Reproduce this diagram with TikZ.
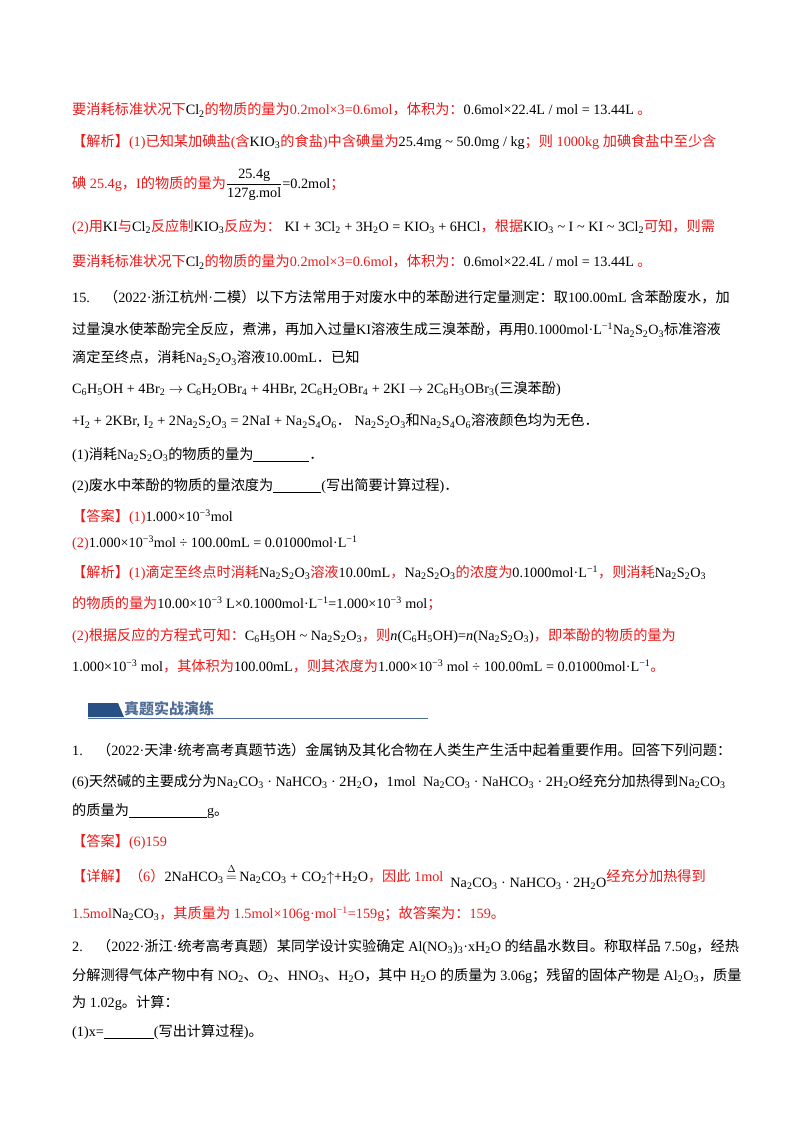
\documentclass[tikz,border=0pt]{standalone}
\usepackage{amsmath}
\usepackage{fontspec}
\setmainfont{Liberation Serif}
\newfontfamily\cjkf{Noto Sans CJK SC}
\newcount\cjkcc
\cjkcc="3000 \loop \XeTeXcharclass\cjkcc=1 \advance\cjkcc by 1 \ifnum\cjkcc<"3040 \repeat
\cjkcc="4E00 \loop \XeTeXcharclass\cjkcc=1 \advance\cjkcc by 1 \ifnum\cjkcc<"A000 \repeat
\cjkcc="FF00 \loop \XeTeXcharclass\cjkcc=1 \advance\cjkcc by 1 \ifnum\cjkcc<"FFF0 \repeat
\XeTeXinterchartokenstate=1
\XeTeXinterchartoks 0 1 = {\cjkf}
\XeTeXinterchartoks 4095 1 = {\cjkf}
\XeTeXinterchartoks 1 0 = {\rmfamily}
\XeTeXinterchartoks 1 4095 = {\rmfamily}
\definecolor{myred}{RGB}{235,25,25}
\definecolor{hblue}{RGB}{40,80,130}
\definecolor{htext}{RGB}{80,110,150}
\newcommand\R[1]{{\color{myred}#1}}
\newcommand\s[1]{\textsubscript{#1}}
\newcommand\p[1]{\textsuperscript{#1}}
\newcommand\blank[1]{\rule[-2pt]{#1}{0.8pt}}
\begin{document}
\begin{tikzpicture}[x=1pt,y=-1pt,
  ln/.style={anchor=west,inner sep=0pt,font=\fontsize{14.2}{17}\selectfont}]
\useasboundingbox (0,0) rectangle (800,1132);
\fill[white] (0,0) rectangle (800,1132);
\node[ln] (l1) at (72,110) {\R{要消耗标准状况下}Cl\s{2}\R{的物质的量为0.2mol×3=0.6mol，体积为：}0.6mol×22.4L / mol = 13.44L \R{。}};
\node[ln] (l2) at (72,142) {\R{【解析】(1)已知某加碘盐(含}KIO\s{3}\R{的食盐)中含碘量为}25.4mg \textasciitilde{} 50.0mg / kg\R{；则 1000kg 加碘食盐中至少含}};
\node[ln] (l3) at (72,185) {\R{碘 25.4g，I的物质的量为}$\dfrac{\text{25.4g}}{\text{127g.mol}}$=0.2mol\R{；}};
\node[ln] (l4) at (72,227) {\R{(2)用}KI\R{与}Cl\s{2}\R{反应制}KIO\s{3}\R{反应为：} KI + 3Cl\s{2} + 3H\s{2}O = KIO\s{3} + 6HCl\R{，根据}KIO\s{3} \textasciitilde{} I \textasciitilde{} KI \textasciitilde{} 3Cl\s{2}\R{可知，则需}};
\node[ln] (l5) at (72,262) {\R{要消耗标准状况下}Cl\s{2}\R{的物质的量为0.2mol×3=0.6mol，体积为：}0.6mol×22.4L / mol = 13.44L \R{。}};
\node[ln] (l6) at (72,297) {15.\quad（2022·浙江杭州·二模）以下方法常用于对废水中的苯酚进行定量测定：取100.00mL 含苯酚废水，加};
\node[ln] (l7) at (72,330) {过量溴水使苯酚完全反应，煮沸，再加入过量KI溶液生成三溴苯酚，再用0.1000mol·L\p{−1}Na\s{2}S\s{2}O\s{3}标准溶液};
\node[ln] (l8) at (72,358) {滴定至终点，消耗Na\s{2}S\s{2}O\s{3}溶液10.00mL．已知};
\node[ln] (l9) at (72,389) {C\s{6}H\s{5}OH + 4Br\s{2} $\rightarrow$ C\s{6}H\s{2}OBr\s{4} + 4HBr, 2C\s{6}H\s{2}OBr\s{4} + 2KI $\rightarrow$ 2C\s{6}H\s{3}OBr\s{3}(三溴苯酚)};
\node[ln] (l10) at (72,421) {+I\s{2} + 2KBr, I\s{2} + 2Na\s{2}S\s{2}O\s{3} = 2NaI + Na\s{2}S\s{4}O\s{6}．\ Na\s{2}S\s{2}O\s{3}和Na\s{2}S\s{4}O\s{6}溶液颜色均为无色．};
\node[ln] (l11) at (72,455) {(1)消耗Na\s{2}S\s{2}O\s{3}的物质的量为\blank{56pt}．};
\node[ln] (l12) at (72,486) {(2)废水中苯酚的物质的量浓度为\blank{48pt}(写出简要计算过程)．};
\node[ln] (l13) at (72,517) {\R{【答案】(1)}1.000×10\p{−3}mol};
\node[ln] (l14) at (72,543) {\R{(2)}1.000×10\p{−3}mol ÷ 100.00mL = 0.01000mol·L\p{−1}};
\node[ln] (l15) at (72,573) {\R{【解析】(1)滴定至终点时消耗}Na\s{2}S\s{2}O\s{3}\R{溶液}10.00mL\R{，}Na\s{2}S\s{2}O\s{3}\R{的浓度为}0.1000mol·L\p{−1}\R{，则消耗}Na\s{2}S\s{2}O\s{3}};
\node[ln] (l16) at (72,604) {\R{的物质的量为}10.00×10\p{−3} L×0.1000mol·L\p{−1}=1.000×10\p{−3} mol\R{；}};
\node[ln] (l17) at (72,636) {\R{(2)根据反应的方程式可知：}C\s{6}H\s{5}OH \textasciitilde{} Na\s{2}S\s{2}O\s{3}\R{，则}\textit{n}(C\s{6}H\s{5}OH)=\textit{n}(Na\s{2}S\s{2}O\s{3})\R{，即苯酚的物质的量为}};
\node[ln] (l18) at (72,666) {1.000×10\p{−3} mol\R{，其体积为}100.00mL\R{，则其浓度为}1.000×10\p{−3} mol ÷ 100.00mL = 0.01000mol·L\p{−1}\R{。}};
% section header
\fill[hblue] (88,703) -- (118,703) -- (124,717) -- (88,717) -- cycle;
\draw[htext,line width=0.8pt] (88,718) -- (428,718);
\node[anchor=west,inner sep=0pt,text=htext,font=\fontsize{15}{17}\selectfont\bfseries] (hd) at (124,709) {真题实战演练};
\node[ln] (m1) at (72,750) {1.\quad（2022·天津·统考高考真题节选）金属钠及其化合物在人类生产生活中起着重要作用。回答下列问题：};
\node[ln] (m2) at (72,782) {(6)天然碱的主要成分为Na\s{2}CO\s{3} · NaHCO\s{3} · 2H\s{2}O，1mol\ \ Na\s{2}CO\s{3} · NaHCO\s{3} · 2H\s{2}O经充分加热得到Na\s{2}CO\s{3}};
\node[ln] (m3) at (72,811) {的质量为\blank{78pt}g。};
\node[ln] (m4) at (72,842) {\R{【答案】(6)159}};
\node[ln] (m5) at (72,877) {\R{【详解】（6）}2NaHCO\s{3}\,\raisebox{0pt}{$\overset{\raisebox{1pt}{$\scriptstyle\Delta$}}{=}$}\,Na\s{2}CO\s{3} + CO\s{2}$\uparrow$+H\s{2}O\R{，因此 1mol}\ \ \raisebox{-6pt}{Na\s{2}CO\s{3} · NaHCO\s{3} · 2H\s{2}O}\R{经充分加热得到}};
\node[ln] (m6) at (72,914) {\R{1.5mol}Na\s{2}CO\s{3}\R{，其质量为 1.5mol×106g·mol\p{−1}=159g；故答案为：159。}};
\node[ln] (m7) at (72,947) {2.\quad（2022·浙江·统考高考真题）某同学设计实验确定 Al(NO\s{3})\s{3}·xH\s{2}O 的结晶水数目。称取样品 7.50g，经热};
\node[ln] (m8) at (72,976) {分解测得气体产物中有 NO\s{2}、O\s{2}、HNO\s{3}、H\s{2}O，其中 H\s{2}O 的质量为 3.06g；残留的固体产物是 Al\s{2}O\s{3}，质量};
\node[ln] (m9) at (72,1003) {为 1.02g。计算：};
\node[ln] (m10) at (72,1032) {(1)x=\blank{50pt}(写出计算过程)。};
\end{tikzpicture}
\end{document}
